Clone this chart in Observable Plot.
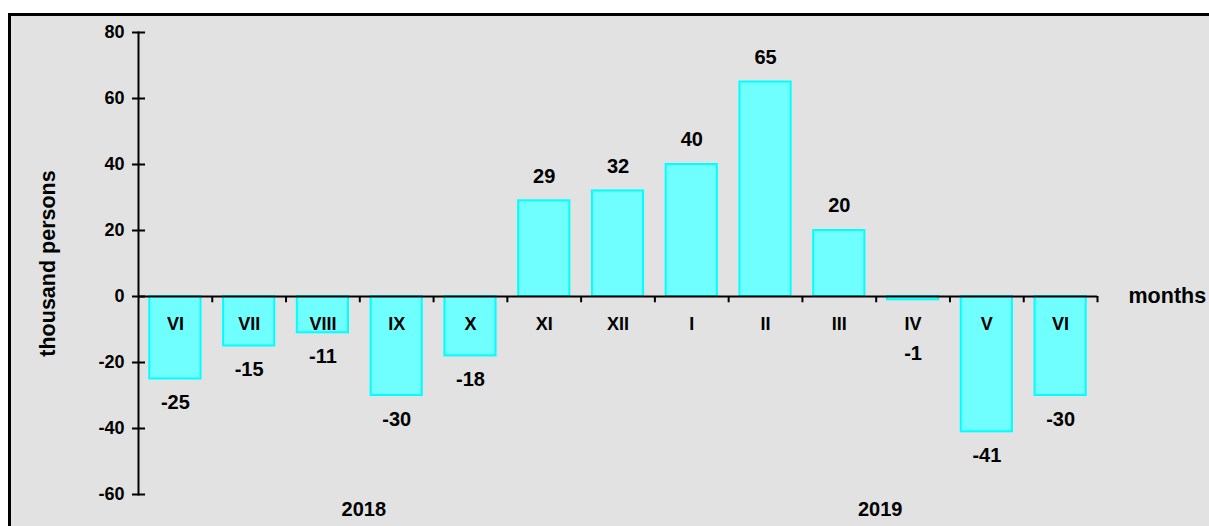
<!DOCTYPE html>
<html>
<head>
<meta charset="utf-8">
<script src="https://cdn.jsdelivr.net/npm/d3@7"></script>
<script src="https://cdn.jsdelivr.net/npm/@observablehq/plot@0.6"></script>
<style>
  html, body { margin: 0; padding: 0; background: #ffffff; overflow: hidden; }
  #wrap { position: relative; width: 1209px; height: 526px; overflow: hidden; }
  #panel { position: absolute; left: 8px; top: 13px; width: 1300px; height: 600px;
           border-left: 3px solid #000; border-top: 3px solid #000; background: #e2e2e2; }
  #chart { position: absolute; left: 0; top: 0; }
</style>
</head>
<body>
<div id="wrap"><div id="panel"></div><div id="chart"></div></div>
<script>
const months = ["VI","VII","VIII","IX","X","XI","XII","I","II","III","IV","V","VI"];
const years  = ["2018","2018","2018","2018","2018","2018","2018","2019","2019","2019","2019","2019","2019"];
const values = [-25, -15, -11, -30, -18, 29, 32, 40, 65, 20, -1, -41, -30];
const yTicks = [-60, -40, -20, 0, 20, 40, 60, 80];
const yearLabels = ["2018", "2019"];
const yearAnchors = ["IX-2018", "IV-2019"];
const yAxisTitle = "thousand persons";
const xAxisTitle = "months";

const data = months.map((m, i) => ({key: `${m}-${years[i]}`, month: m, year: years[i], value: values[i]}));
const keys = data.map(d => d.key);
const yearData = yearLabels.map((y, i) => ({year: y, key: yearAnchors[i]}));

const W = 1209, H = 526;
const mL = 138, mR = 112;
const step = (W - mL - mR) / keys.length;
const font = "'Liberation Sans', Arial, Helvetica, sans-serif";

const chart = Plot.plot({
  width: W, height: H,
  marginLeft: mL, marginRight: mR, marginTop: 32, marginBottom: 32,
  style: {background: "transparent", fontFamily: font, fontWeight: "bold", color: "#000", overflow: "visible"},
  x: {domain: keys, paddingInner: 0.306, paddingOuter: 0.153, round: false, axis: null},
  y: {domain: [-60, 80], axis: null},
  marks: [
    Plot.barY(data, {x: "key", y1: 0, y2: "value", fill: "#6fffff", stroke: "#00ffff", strokeWidth: 2}),
    Plot.ruleY([0], {stroke: "#000", strokeWidth: 2}),
    Plot.ruleX(data, {x: "key", y1: 0, y2: -1.9, dx: step / 2, stroke: "#000", strokeWidth: 2}),
    Plot.frame({anchor: "left", stroke: "#000", strokeWidth: 2}),
    Plot.axisY({ticks: yTicks, tickSize: 13, dx: 7, tickFormat: () => "", label: null, strokeWidth: 2}),
    Plot.axisY({ticks: yTicks, tickSize: 0, tickPadding: 14, tickFormat: d => String(d), label: null, fontSize: 18, fontWeight: "bold", fill: "#000"}),
    Plot.text(data, {x: "key", y: 0, text: "month", dy: 28, fontSize: 18, fontWeight: "bold", fill: "#000"}),
    Plot.text(data.filter(d => d.value >= 0), {x: "key", y: "value", text: d => String(d.value), dy: -24.5, fontSize: 20, fontWeight: "bold", fill: "#000"}),
    Plot.text(data.filter(d => d.value < 0), {x: "key", y: d => Math.min(d.value, -10), text: d => String(d.value), dy: 24, fontSize: 20, fontWeight: "bold", fill: "#000"}),
    Plot.text(yearData, {x: "key", y: -60, text: "year", dx: -step / 2 + 4, dy: 15, fontSize: 20, fontWeight: "bold", fill: "#000"}),
    Plot.text([yAxisTitle], {frameAnchor: "left", text: d => d, rotate: -90, textAnchor: "middle", lineAnchor: "middle", dx: -90, fontSize: 21.5, fontWeight: "bold", fill: "#000"}),
    Plot.text([xAxisTitle], {y: [0], frameAnchor: "right", text: d => d, textAnchor: "start", dx: 31, fontSize: 21.5, fontWeight: "bold", fill: "#000"})
  ]
});
document.getElementById("chart").appendChild(chart);
</script>
</body>
</html>
